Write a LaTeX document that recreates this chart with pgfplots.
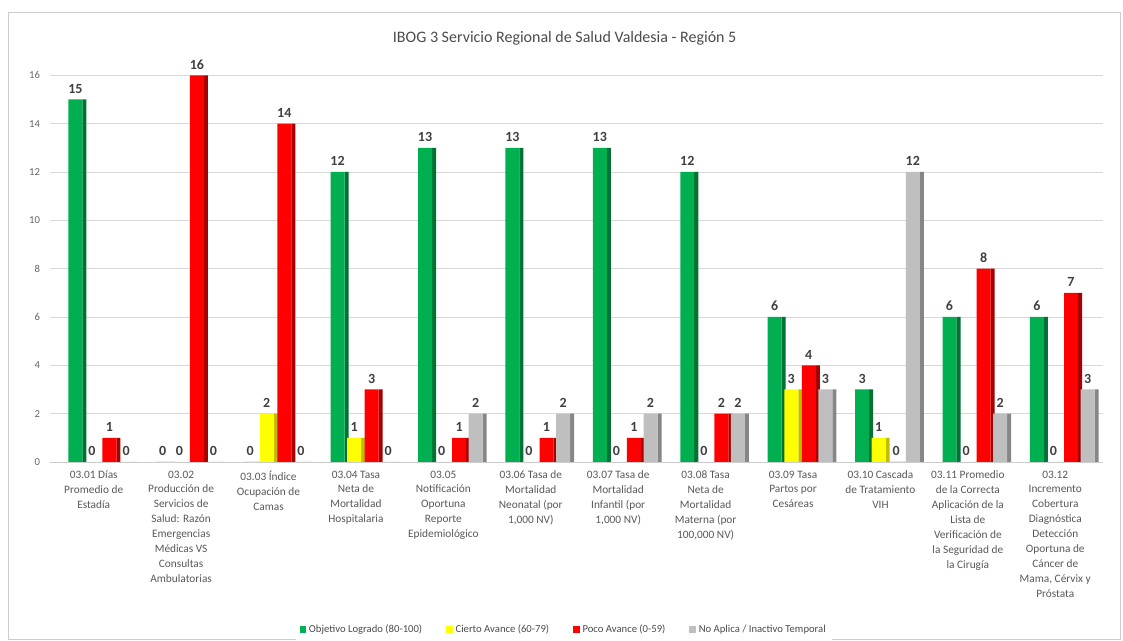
\documentclass[border=0pt]{standalone}
\usepackage{fontspec}
\setmainfont{Carlito}
\usepackage{pgfplots}
\usepackage{pgfplotstable}
\pgfplotsset{compat=1.18}

\definecolor{cgreen}{RGB}{0,176,80}
\definecolor{cyellow}{RGB}{255,255,0}
\definecolor{cred}{RGB}{255,0,0}
\definecolor{cgrey}{RGB}{191,191,191}

% x: category index, g/y/r/n: the four status series
\pgfplotstableread{
x  g  y  r  n
0  15 0  1  0
1  0  0  16 0
2  0  2  14 0
3  12 1  3  0
4  13 0  1  2
5  13 0  1  2
6  13 0  1  2
7  12 0  2  2
8  6  3  4  3
9  3  1  0  12
10 6  0  8  2
11 6  0  7  3
}\data

\begin{document}
\begin{tikzpicture}
\fill[white] (-37.5pt,-134pt) rectangle (804.75pt,346.5pt);
\draw[black!20] (-31.5pt,-133pt) rectangle (802.5pt,337.5pt);
\begin{axis}[
    at={(0pt,0pt)}, anchor=south west,
    scale only axis, width=790pt, height=290pt,
    xmin=-0.5, xmax=11.55, ymin=0, ymax=16,
    ytick={0,2,...,16},
    xtick={0,...,11},
    xticklabels={
      {03.01 Días\\Promedio de\\Estadía},
      {03.02\\Producción de\\Servicios de\\Salud: Razón\\Emergencias\\Médicas VS\\Consultas\\Ambulatorias},
      {03.03 Índice\\Ocupación de\\Camas},
      {03.04 Tasa\\Neta de\\Mortalidad\\Hospitalaria},
      {03.05\\Notificación\\Oportuna\\Reporte\\Epidemiológico},
      {03.06 Tasa de\\Mortalidad\\Neonatal (por\\1,000 NV)},
      {03.07 Tasa de\\Mortalidad\\Infantil (por\\1,000 NV)},
      {03.08 Tasa\\Neta de\\Mortalidad\\Materna (por\\100,000 NV)},
      {03.09 Tasa\\Partos por\\Cesáreas},
      {03.10 Cascada\\de Tratamiento\\VIH},
      {03.11 Promedio\\de la Correcta\\Aplicación de la\\Lista de\\Verificación de\\la Seguridad de\\la Cirugía},
      {03.12\\Incremento\\Cobertura\\Diagnóstica\\Detección\\Oportuna de\\Cáncer de\\Mama, Cérvix y\\Próstata}
    },
    xticklabel style={align=center, font=\fontsize{8.5}{11.2}\selectfont, text=black!65, anchor=north, yshift=-3pt},
    yticklabel style={font=\fontsize{8}{9}\selectfont, text=black!60, xshift=-4pt},
    /pgf/number format/assume math mode=true,
    major tick length=0pt,
    ymajorgrids, grid style={black!15},
    axis x line*=bottom, axis y line*=left,
    x axis line style={black!20}, y axis line style={draw=none},
    ybar, bar width=0.16,
    nodes near coords,
    every node near coord/.append style={font=\bfseries\fontsize{10.5}{12}\selectfont, text=black!75, yshift=1pt},
    legend style={at={(0.488,-0.434)}, anchor=center, legend columns=4, draw=none,
      font=\fontsize{8}{10}\selectfont, text=black!70,
      /tikz/every even column/.append style={column sep=16pt}},
    legend image code/.code={\fill[#1] (0pt,-2.5pt) rectangle (5pt,2.5pt);},
]
% side faces (pseudo 3D)
\addplot[fill=cgreen!65!black, draw=none, bar shift=-0.107, bar width=0.046, nodes near coords=\empty, forget plot] table[x=x,y=g] {\data};
\addplot[fill=cyellow!75!black, draw=none, bar shift=0.083, bar width=0.046, nodes near coords=\empty, forget plot] table[x=x,y=y] {\data};
\addplot[fill=cred!65!black, draw=none, bar shift=0.283, bar width=0.046, nodes near coords=\empty, forget plot] table[x=x,y=r] {\data};
\addplot[fill=cgrey!70!black, draw=none, bar shift=0.473, bar width=0.046, nodes near coords=\empty, forget plot] table[x=x,y=n] {\data};
% front faces
\addplot[fill=cgreen, draw=none, bar shift=-0.21] table[x=x,y=g] {\data};
\addlegendentry{Objetivo Logrado (80-100)}
\addplot[fill=cyellow, draw=none, bar shift=-0.02] table[x=x,y=y] {\data};
\addlegendentry{Cierto Avance (60-79)}
\addplot[fill=cred, draw=none, bar shift=0.18] table[x=x,y=r] {\data};
\addlegendentry{Poco Avance (0-59)}
\addplot[fill=cgrey, draw=none, bar shift=0.37] table[x=x,y=n] {\data};
\addlegendentry{No Aplica / Inactivo Temporal}
\end{axis}
\node[font=\fontsize{12}{14}\selectfont, text=black!70] at (386pt,318pt) {IBOG 3 Servicio Regional de Salud Valdesia - Región 5};
\end{tikzpicture}
\end{document}
